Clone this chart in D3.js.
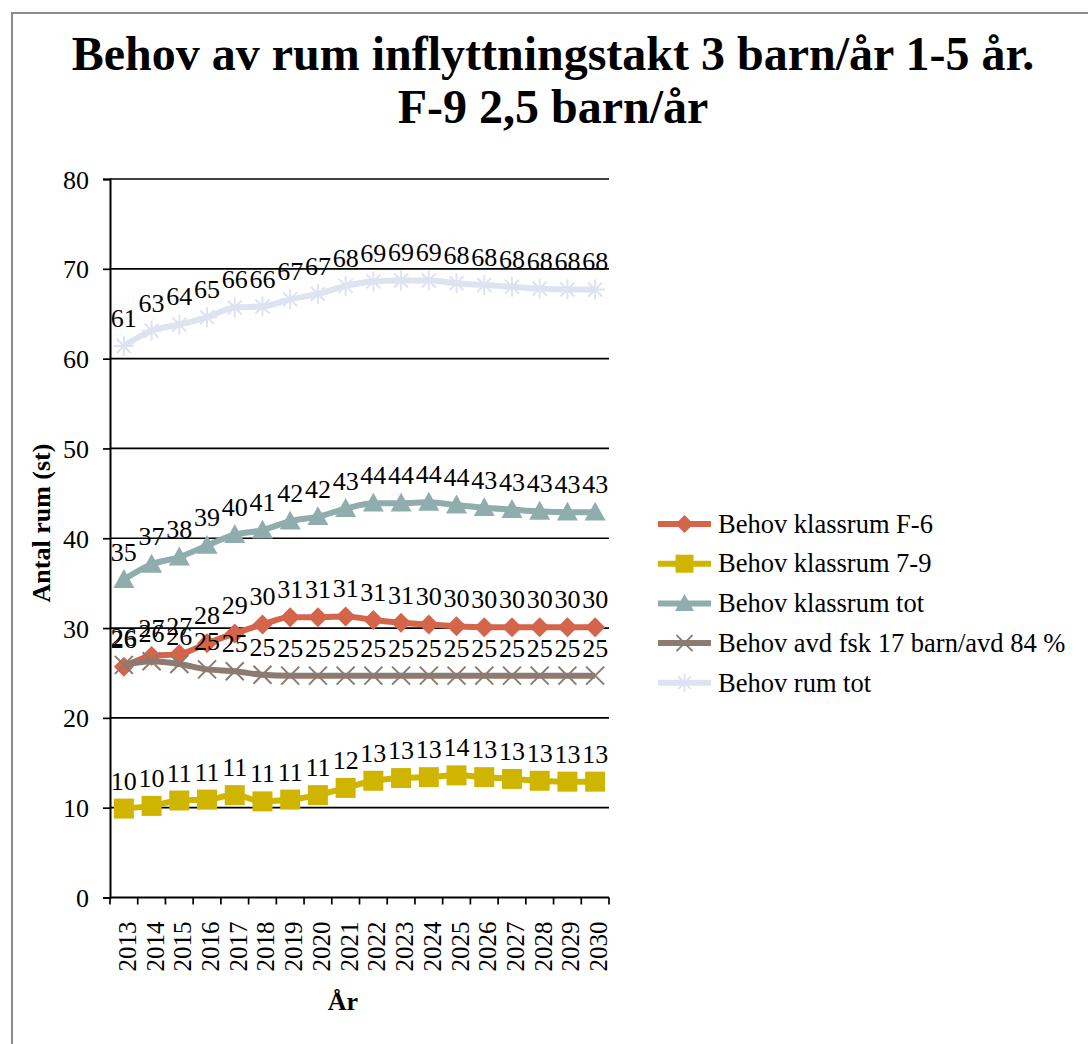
<!DOCTYPE html>
<html>
<head>
<meta charset="utf-8">
<script src="https://cdn.jsdelivr.net/npm/d3@7"></script>
<style>
  body { margin: 0; background: #fff; }
  svg { display: block; }
  svg text { font-family: "Liberation Serif", "Times New Roman", serif; fill: #000; }
</style>
</head>
<body>
<script>
// data
var years = ["2013","2014","2015","2016","2017","2018","2019","2020","2021","2022","2023","2024","2025","2026","2027","2028","2029","2030"];
var klassF6  = [25.7, 26.9, 27.1, 28.3, 29.4, 30.4, 31.2, 31.2, 31.3, 30.9, 30.6, 30.4, 30.2, 30.1, 30.1, 30.1, 30.1, 30.1];
var klass79  = [ 9.9, 10.2, 10.8, 10.9, 11.4, 10.7, 10.9, 11.4, 12.2, 13.0, 13.3, 13.4, 13.6, 13.4, 13.2, 13.0, 12.9, 12.9];
var klassTot = [35.4, 37.1, 37.9, 39.2, 40.4, 40.9, 41.9, 42.4, 43.3, 43.9, 43.9, 44.0, 43.7, 43.4, 43.2, 43.0, 42.9, 42.9];
var fsk      = [25.9, 26.3, 26.0, 25.4, 25.2, 24.8, 24.7, 24.7, 24.7, 24.7, 24.7, 24.7, 24.7, 24.7, 24.7, 24.7, 24.7, 24.7];
var rumTot   = [61.4, 63.1, 63.8, 64.6, 65.7, 65.8, 66.6, 67.2, 68.1, 68.6, 68.7, 68.7, 68.4, 68.2, 68.0, 67.8, 67.7, 67.7];
var yTicks = [0, 10, 20, 30, 40, 50, 60, 70, 80];

var series = [
  {name: "Behov klassrum F-6", values: klassF6, color: "#d4654a", marker: "diamond"},
  {name: "Behov klassrum 7-9", values: klass79, color: "#cfb500", marker: "square"},
  {name: "Behov klassrum tot", values: klassTot, color: "#8fadad", marker: "triangle"},
  {name: "Behov avd fsk 17 barn/avd 84 %", values: fsk, color: "#8c7b70", marker: "x"},
  {name: "Behov rum tot", values: rumTot, color: "#dde3f1", marker: "star"}
];

var W = 1088, H = 1044;
var plotLeft = 110, plotRight = 609, plotTop = 179, plotBottom = 897.5;

var svg = d3.select("body").append("svg").attr("width", W).attr("height", H);

// outer frame
svg.append("rect").attr("x", 12).attr("y", 13).attr("width", W + 20).attr("height", H + 20)
  .attr("fill", "none").attr("stroke", "#8c8c8c").attr("stroke-width", 2);

// title
var title = svg.append("text").attr("text-anchor", "middle").attr("font-weight", "bold")
  .attr("font-size", 48);
title.append("tspan").attr("x", 553).attr("y", 70).text("Behov av rum inflyttningstakt 3 barn/år 1-5 år.");
title.append("tspan").attr("x", 553).attr("y", 123).text("F-9 2,5 barn/år");

var x = d3.scaleBand().domain(years).range([plotLeft, plotRight]).padding(0);
var y = d3.scaleLinear().domain([0, 80]).range([plotBottom, plotTop]);
var cx = function(i) { return x(years[i]) + x.bandwidth() / 2; };

// gridlines
svg.append("g").selectAll("line").data(yTicks.filter(function(d){ return d > 0; })).join("line")
  .attr("x1", plotLeft).attr("x2", plotRight)
  .attr("y1", function(d){ return y(d); }).attr("y2", function(d){ return y(d); })
  .attr("stroke", "#000").attr("stroke-width", 1.7);

// y axis
var yAxis = svg.append("g").attr("transform", "translate(" + plotLeft + ",0)")
  .call(d3.axisLeft(y).tickValues(yTicks).tickSize(7).tickPadding(14));
yAxis.select(".domain").attr("stroke", "#000").attr("stroke-width", 2);
yAxis.selectAll(".tick line").attr("stroke", "#000").attr("stroke-width", 1.7);
yAxis.selectAll(".tick text").attr("font-size", 26).attr("dy", "0.35em");

// x axis
var xg = svg.append("g");
xg.append("line").attr("x1", plotLeft).attr("x2", plotRight).attr("y1", plotBottom).attr("y2", plotBottom)
  .attr("stroke", "#000").attr("stroke-width", 2);
var bounds = years.map(function(d){ return x(d); }).concat([plotRight]);
xg.selectAll("line.tk").data(bounds).join("line").attr("class", "tk")
  .attr("x1", function(d){ return d; }).attr("x2", function(d){ return d; })
  .attr("y1", plotBottom).attr("y2", plotBottom + 7)
  .attr("stroke", "#000").attr("stroke-width", 1.7);
xg.selectAll("text").data(years).join("text")
  .attr("transform", function(d, i){ return "translate(" + (cx(i) + 12) + "," + (plotBottom + 24) + ") rotate(-90)"; })
  .attr("text-anchor", "end").attr("font-size", 25).text(function(d){ return d; });

// axis titles
svg.append("text").attr("transform", "translate(50," + 523 + ") rotate(-90)")
  .attr("text-anchor", "middle").attr("font-size", 26).attr("font-weight", "bold").text("Antal rum (st)");
svg.append("text").attr("x", 343).attr("y", 1010)
  .attr("text-anchor", "middle").attr("font-size", 26).attr("font-weight", "bold").text("År");

function markerPath(type, s) {
  var h = s / 2;
  if (type === "diamond") return "M0," + (-h) + "L" + h + ",0L0," + h + "L" + (-h) + ",0Z";
  if (type === "square") return "M" + (-h) + "," + (-h) + "h" + s + "v" + s + "h" + (-s) + "Z";
  if (type === "triangle") return "M0," + (-h) + "L" + h + "," + (h * 0.8) + "L" + (-h) + "," + (h * 0.8) + "Z";
  if (type === "x") return "M" + (-h) + "," + (-h) + "L" + h + "," + h + "M" + h + "," + (-h) + "L" + (-h) + "," + h;
  return "M" + (-h) + ",0L" + h + ",0M" + (-h * 0.7) + "," + (-h * 0.7) + "L" + (h * 0.7) + "," + (h * 0.7) +
         "M" + (h * 0.7) + "," + (-h * 0.7) + "L" + (-h * 0.7) + "," + (h * 0.7) + "M0," + (-h) + "L0," + h;
}
function drawMarker(g, type, color, size) {
  var p = g.append("path").attr("d", markerPath(type, size));
  if (type === "x" || type === "star") p.attr("fill", "none").attr("stroke", color).attr("stroke-width", 2);
  else p.attr("fill", color);
}
var markerSize = {diamond: 20, square: 20, triangle: 21, x: 18, star: 20};

var line = d3.line().x(function(d, i){ return cx(i); }).y(function(d){ return y(d); })
  .curve(d3.curveMonotoneX);

series.forEach(function(s) {
  var g = svg.append("g");
  g.append("path").attr("d", line(s.values)).attr("fill", "none")
    .attr("stroke", s.color).attr("stroke-width", 6).attr("stroke-linejoin", "round");
  s.values.forEach(function(v, i) {
    var m = g.append("g").attr("transform", "translate(" + cx(i) + "," + y(v) + ")");
    drawMarker(m, s.marker, s.color, markerSize[s.marker]);
  });
});

// data labels
series.forEach(function(s) {
  svg.append("g").selectAll("text").data(s.values).join("text")
    .attr("x", function(d, i){ return cx(i); })
    .attr("y", function(d){ return y(d) - 19; })
    .attr("text-anchor", "middle").attr("font-size", 26)
    .text(function(d){ return Math.round(d); });
});

// legend
var legend = svg.append("g").attr("transform", "translate(658,524)");
series.forEach(function(s, i) {
  var row = legend.append("g").attr("transform", "translate(0," + (i * 39.7) + ")");
  row.append("line").attr("x1", 0).attr("x2", 53).attr("y1", 0).attr("y2", 0)
    .attr("stroke", s.color).attr("stroke-width", 6);
  var m = row.append("g").attr("transform", "translate(26.5,0)");
  drawMarker(m, s.marker, s.color, markerSize[s.marker] - 2);
  row.append("text").attr("x", 60).attr("y", 0).attr("dy", "0.33em")
    .attr("font-size", 26.5).text(s.name);
});
</script>
</body>
</html>
